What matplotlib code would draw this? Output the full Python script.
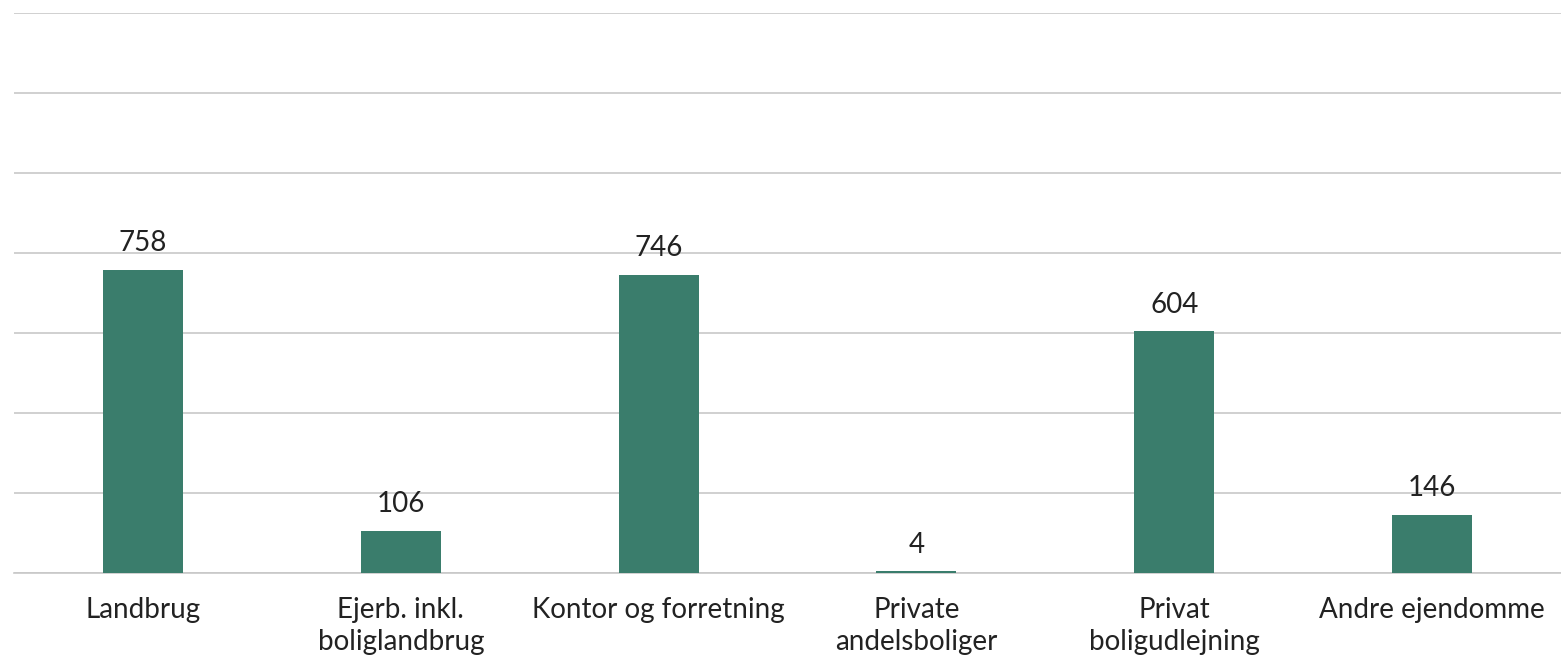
import matplotlib.pyplot as plt

categories = ['Landbrug', 'Ejerb. inkl.\nboliglandbrug', 'Kontor og forretning',
              'Private\nandelsboliger', 'Privat\nboligudlejning', 'Andre ejendomme']
values = [758, 106, 746, 4, 604, 146]

plt.rcParams['font.family'] = ['Lato', 'DejaVu Sans']

fig = plt.figure(figsize=(15.61, 6.55), dpi=100)
ax = fig.add_axes([14 / 1561, 1 - 573 / 655, 1 - 14 / 1561, 560 / 655])

x = range(len(categories))
ax.bar(x, values, width=0.31, color='#3A7D6C', zorder=3)
for xi, v in zip(x, values):
    ax.annotate(str(v), (xi, v), xytext=(0, 10), textcoords='offset points',
                ha='center', va='bottom', fontsize=20, color='#222222')

ax.set_ylim(0, 1400)
ax.set_xlim(-0.5, len(categories) - 0.5)
ax.set_yticks(range(0, 1401, 200))
ax.yaxis.grid(True, color='#C8C8C8', linewidth=1.2, zorder=0)
ax.set_yticklabels([])
ax.tick_params(axis='y', length=0)
ax.tick_params(axis='x', length=0, pad=17)
ax.set_xticks(list(x))
ax.set_xticklabels(categories, fontsize=20, color='#222222', linespacing=1.3)
for s in ['top', 'right', 'left']:
    ax.spines[s].set_visible(False)
ax.spines['bottom'].set_color('#C8C8C8')
ax.spines['bottom'].set_linewidth(1.2)

fig.savefig('out.png', dpi=100)
